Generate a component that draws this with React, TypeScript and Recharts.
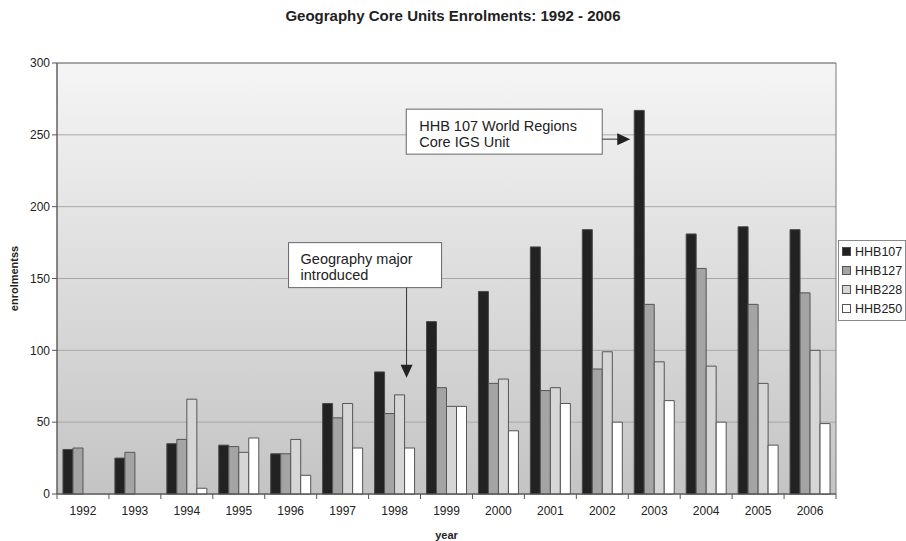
import React from "react";
import {
  BarChart,
  Bar,
  XAxis,
  YAxis,
  CartesianGrid,
  Legend,
  ReferenceArea,
  ReferenceDot,
} from "recharts";

const years = [
  "1992", "1993", "1994", "1995", "1996", "1997", "1998", "1999",
  "2000", "2001", "2002", "2003", "2004", "2005", "2006",
];
const hhb107 = [31, 25, 35, 34, 28, 63, 85, 120, 141, 172, 184, 267, 181, 186, 184];
const hhb127 = [32, 29, 38, 33, 28, 53, 56, 74, 77, 72, 87, 132, 157, 132, 140];
const hhb228 = [null, null, 66, 29, 38, 63, 69, 61, 80, 74, 99, 92, 89, 77, 100];
const hhb250 = [null, null, 4, 39, 13, 32, 32, 61, 44, 63, 50, 65, 50, 34, 49];
const yTicks = [0, 50, 100, 150, 200, 250, 300];

const series = [
  { key: "HHB107", values: hhb107, fill: "#222222", stroke: "#4a4a4a" },
  { key: "HHB127", values: hhb127, fill: "#a4a4a4", stroke: "#555555" },
  { key: "HHB228", values: hhb228, fill: "#d6d6d6", stroke: "#555555" },
  { key: "HHB250", values: hhb250, fill: "#ffffff", stroke: "#555555" },
];

const data = years.map((y, i) => {
  const row: Record<string, string | number | null> = { year: y };
  for (const s of series) row[s.key] = s.values[i];
  return row;
});

const FONT = "'Liberation Sans', Arial, sans-serif";
const W = 906;
const H = 541;
const MARGIN = { top: 63, right: 70, bottom: 0, left: 0 };
const bandHalf = (W - MARGIN.right - 57) / years.length / 2;

function XTick(props: any) {
  const { x, y, payload } = props;
  return (
    <g>
      <line x1={x - bandHalf} x2={x - bandHalf} y1={y - 8} y2={y - 3} stroke="#555" />
      {payload.value === "2006" && (
        <line x1={x + bandHalf} x2={x + bandHalf} y1={y - 8} y2={y - 3} stroke="#555" />
      )}
      <text x={x} y={y + 13} textAnchor="middle" fontSize={12} fill="#222" fontFamily={FONT}>
        {payload.value}
      </text>
    </g>
  );
}

function LegendBox() {
  return (
    <div
      style={{
        border: "1px solid #8a8a8a",
        background: "#fff",
        padding: "1px 0 2px 3px",
        fontFamily: FONT,
        fontSize: 12.5,
        color: "#222",
        width: 68,
        boxSizing: "border-box",
      }}
    >
      {series.map((s) => (
        <div key={s.key} style={{ display: "flex", alignItems: "center", height: 19 }}>
          <span
            style={{
              width: 7,
              height: 7,
              background: s.fill,
              border: `1px solid ${s.stroke}`,
              marginRight: 4,
              display: "inline-block",
            }}
          />
          {s.key}
        </div>
      ))}
    </div>
  );
}

// arrow + box pointing at the 2003 HHB107 bar
function WorldRegionsNote(props: any) {
  const { cx, cy } = props;
  const tipX = cx - 24;
  return (
    <g fontFamily={FONT} fontSize={14.5} fill="#222">
      <rect x={cx - 248} y={cy - 30} width={196} height={45} fill="#fff" stroke="#666" />
      <text x={cx - 235} y={cy - 8}>HHB 107 World Regions</text>
      <text x={cx - 235} y={cy + 8}>Core IGS Unit</text>
      <line x1={cx - 52} x2={tipX - 12} y1={cy} y2={cy} stroke="#333" />
      <path d={`M${tipX},${cy} L${tipX - 13},${cy - 6} L${tipX - 13},${cy + 6} Z`} fill="#222" />
    </g>
  );
}

// arrow + box for the 1998 geography major note
function MajorNote(props: any) {
  const { cx, cy } = props;
  const ax = cx + 12;
  return (
    <g fontFamily={FONT} fontSize={14.5} fill="#222">
      <rect x={cx - 106} y={cy - 135} width={153} height={45} fill="#fff" stroke="#666" />
      <text x={cx - 94} y={cy - 114}>Geography major</text>
      <text x={cx - 94} y={cy - 98}>introduced</text>
      <line x1={ax} x2={ax} y1={cy - 90} y2={cy - 12} stroke="#333" />
      <path d={`M${ax},${cy} L${ax - 6},${cy - 13} L${ax + 6},${cy - 13} Z`} fill="#222" />
    </g>
  );
}

export default function App() {
  return (
    <div style={{ position: "absolute", left: 0, top: 0, width: W, height: H, background: "#fff" }}>
      <div
        style={{
          position: "absolute",
          top: 7,
          left: 0,
          width: W,
          textAlign: "center",
          fontFamily: FONT,
          fontWeight: "bold",
          fontSize: 15,
          color: "#222",
        }}
      >
        Geography Core Units Enrolments: 1992 - 2006
      </div>
      <BarChart
        width={W}
        height={H}
        data={data}
        margin={MARGIN}
        barCategoryGap="11.5%"
        barGap={0}
      >
        <defs>
          <linearGradient id="plotBg" x1="0" y1="0" x2="0" y2="1">
            <stop offset="0%" stopColor="#f5f5f5" />
            <stop offset="100%" stopColor="#c4c4c4" />
          </linearGradient>
        </defs>
        <CartesianGrid vertical={false} stroke="#a8a8a8" fill="url(#plotBg)" />
        <ReferenceArea y1={0} y2={300} fill="none" stroke="#7a7a7a" strokeWidth={1} />
        <XAxis
          dataKey="year"
          height={47}
          axisLine={{ stroke: "#555" }}
          tickLine={false}
          tick={<XTick />}
          interval={0}
          label={{
            value: "year",
            position: "insideBottom",
            offset: 2,
            style: { fontFamily: FONT, fontWeight: "bold", fontSize: 11, fill: "#222" },
          }}
        />
        <YAxis
          width={57}
          domain={[0, 300]}
          ticks={yTicks}
          axisLine={{ stroke: "#555" }}
          tickLine={{ stroke: "#555" }}
          tickSize={5}
          tick={{ fontSize: 12, fill: "#222", fontFamily: FONT }}
          label={{
            content: ({ viewBox }: any) => (
              <text
                x={viewBox.x + 18}
                y={viewBox.y + viewBox.height / 2}
                transform={`rotate(-90 ${viewBox.x + 18} ${viewBox.y + viewBox.height / 2})`}
                textAnchor="middle"
                fontFamily={FONT}
                fontWeight="bold"
                fontSize={11}
                fill="#222"
              >
                enrolmentss
              </text>
            ),
          }}
        />
        {series.map((s) => (
          <Bar
            key={s.key}
            dataKey={s.key}
            fill={s.fill}
            stroke={s.stroke}
            strokeWidth={1}
            isAnimationActive={false}
          />
        ))}
        <ReferenceDot x="2003" y={247} r={0} shape={<WorldRegionsNote />} />
        <ReferenceDot x="1998" y={81} r={0} shape={<MajorNote />} />
        <Legend
          layout="horizontal"
          align="center"
          verticalAlign="middle"
          content={() => <LegendBox />}
          wrapperStyle={{ left: 838, top: 240, width: 68 }}
        />
      </BarChart>
    </div>
  );
}
